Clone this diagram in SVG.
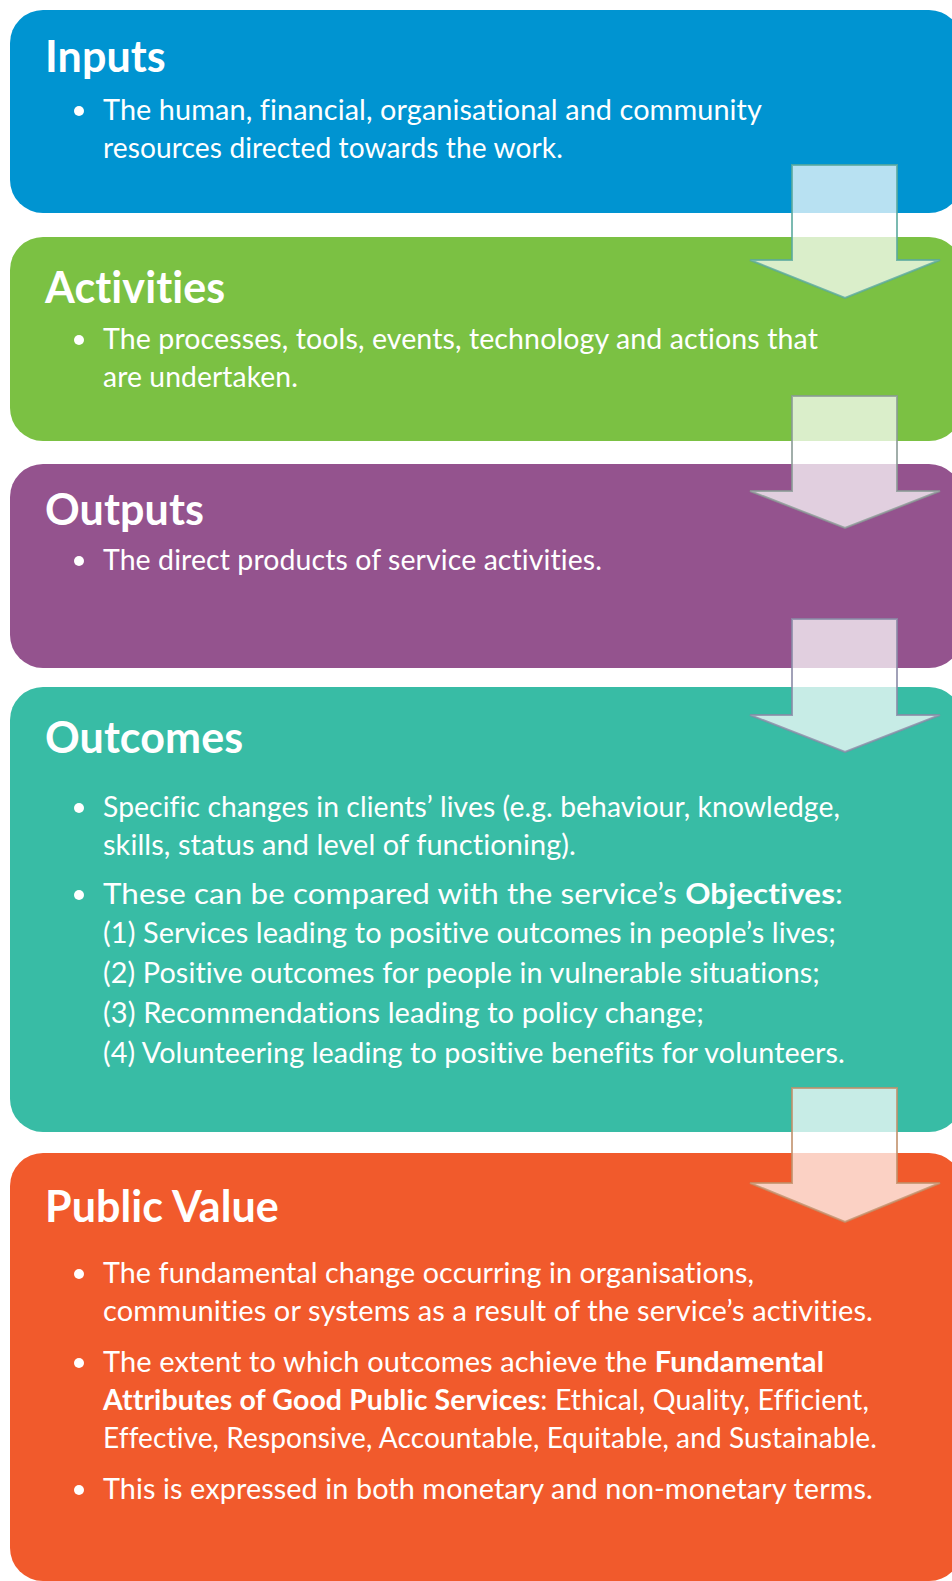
<svg xmlns="http://www.w3.org/2000/svg" width="952" height="1581" viewBox="0 0 952 1581">
<style>
text{font-variant-ligatures:none;font-feature-settings:"liga" 0,"clig" 0,"dlig" 0,"calt" 0;letter-spacing:0.1px}
.title{font-family:Lato,"Open Sans",sans-serif;font-weight:700;font-size:43px;fill:#fff}
.body{font-family:Lato,"Open Sans",sans-serif;font-weight:400;font-size:29px;fill:#fff}
.b{font-weight:700}
.arrow{fill:#fff;fill-opacity:0.72;stroke-width:2;stroke-opacity:0.8}
</style>
<rect width="952" height="1581" fill="#fff"/>
<g id="inputs">
<rect x="10" y="10" width="952" height="203" rx="33" fill="#0094d1"/>
<text class="title" x="45" y="72">Inputs</text>
<circle cx="79" cy="111" r="5" fill="#fff"/>
<text class="body" x="103" y="120" textLength="659" lengthAdjust="spacingAndGlyphs">The human, financial, organisational and community</text>
<text class="body" x="103" y="158" textLength="460" lengthAdjust="spacingAndGlyphs">resources directed towards the work.</text>
</g>
<g id="activities">
<rect x="10" y="237" width="952" height="204" rx="33" fill="#7bc143"/>
<text class="title" x="45" y="303">Activities</text>
<circle cx="79" cy="340" r="5" fill="#fff"/>
<text class="body" x="103" y="349" textLength="715" lengthAdjust="spacingAndGlyphs">The processes, tools, events, technology and actions that</text>
<text class="body" x="103" y="387" textLength="195" lengthAdjust="spacingAndGlyphs">are undertaken.</text>
</g>
<g id="outputs">
<rect x="10" y="464" width="952" height="204" rx="33" fill="#94538e"/>
<text class="title" x="45" y="525">Outputs</text>
<circle cx="79" cy="561" r="5" fill="#fff"/>
<text class="body" x="103" y="570" textLength="499" lengthAdjust="spacingAndGlyphs">The direct products of service activities.</text>
</g>
<g id="outcomes">
<rect x="10" y="687" width="952" height="445" rx="33" fill="#38bca5"/>
<text class="title" x="45" y="753">Outcomes</text>
<circle cx="79" cy="808" r="5" fill="#fff"/>
<text class="body" x="103" y="817" textLength="737" lengthAdjust="spacingAndGlyphs">Specific changes in clients’ lives (e.g. behaviour, knowledge,</text>
<text class="body" x="103" y="855" textLength="473" lengthAdjust="spacingAndGlyphs">skills, status and level of functioning).</text>
<circle cx="79" cy="895" r="5" fill="#fff"/>
<text class="body" x="103" y="904" textLength="740" lengthAdjust="spacingAndGlyphs">These can be compared with the service’s <tspan class="b">Objectives</tspan>:</text>
<text class="body" x="103" y="943" textLength="733" lengthAdjust="spacingAndGlyphs">(1) Services leading to positive outcomes in people’s lives;</text>
<text class="body" x="103" y="983" textLength="717" lengthAdjust="spacingAndGlyphs">(2) Positive outcomes for people in vulnerable situations;</text>
<text class="body" x="103" y="1023" textLength="601" lengthAdjust="spacingAndGlyphs">(3) Recommendations leading to policy change;</text>
<text class="body" x="103" y="1063" textLength="742" lengthAdjust="spacingAndGlyphs">(4) Volunteering leading to positive benefits for volunteers.</text>
</g>
<g id="public-value">
<rect x="10" y="1153" width="952" height="428" rx="33" fill="#f15a2c"/>
<text class="title" x="45" y="1222">Public Value</text>
<circle cx="79" cy="1274" r="5" fill="#fff"/>
<text class="body" x="103" y="1283" textLength="651" lengthAdjust="spacingAndGlyphs">The fundamental change occurring in organisations,</text>
<text class="body" x="103" y="1321" textLength="770" lengthAdjust="spacingAndGlyphs">communities or systems as a result of the service’s activities.</text>
<circle cx="79" cy="1363" r="5" fill="#fff"/>
<text class="body" x="103" y="1372" textLength="721" lengthAdjust="spacingAndGlyphs">The extent to which outcomes achieve the <tspan class="b">Fundamental</tspan></text>
<text class="body" x="103" y="1410" textLength="766" lengthAdjust="spacingAndGlyphs"><tspan class="b">Attributes of Good Public Services</tspan>: Ethical, Quality, Efficient,</text>
<text class="body" x="103" y="1448" textLength="774" lengthAdjust="spacingAndGlyphs">Effective, Responsive, Accountable, Equitable, and Sustainable.</text>
<circle cx="79" cy="1490" r="5" fill="#fff"/>
<text class="body" x="103" y="1499" textLength="770" lengthAdjust="spacingAndGlyphs">This is expressed in both monetary and non-monetary terms.</text>
</g>
<g id="connectors">
<path class="arrow" stroke="#5aa99e" d="M792,165 H897 V260 H940 L845,298 L750,260 H792 Z"/>
<path class="arrow" stroke="#8a9a95" d="M792,396 H897 V491 H940 L845,528 L750,491 H792 Z"/>
<path class="arrow" stroke="#8a8aa6" d="M792,619 H897 V715 H940 L845,752 L750,715 H792 Z"/>
<path class="arrow" stroke="#c0906a" d="M792,1088 H897 V1183 H940 L845,1222 L750,1183 H792 Z"/>
</g>
</svg>
